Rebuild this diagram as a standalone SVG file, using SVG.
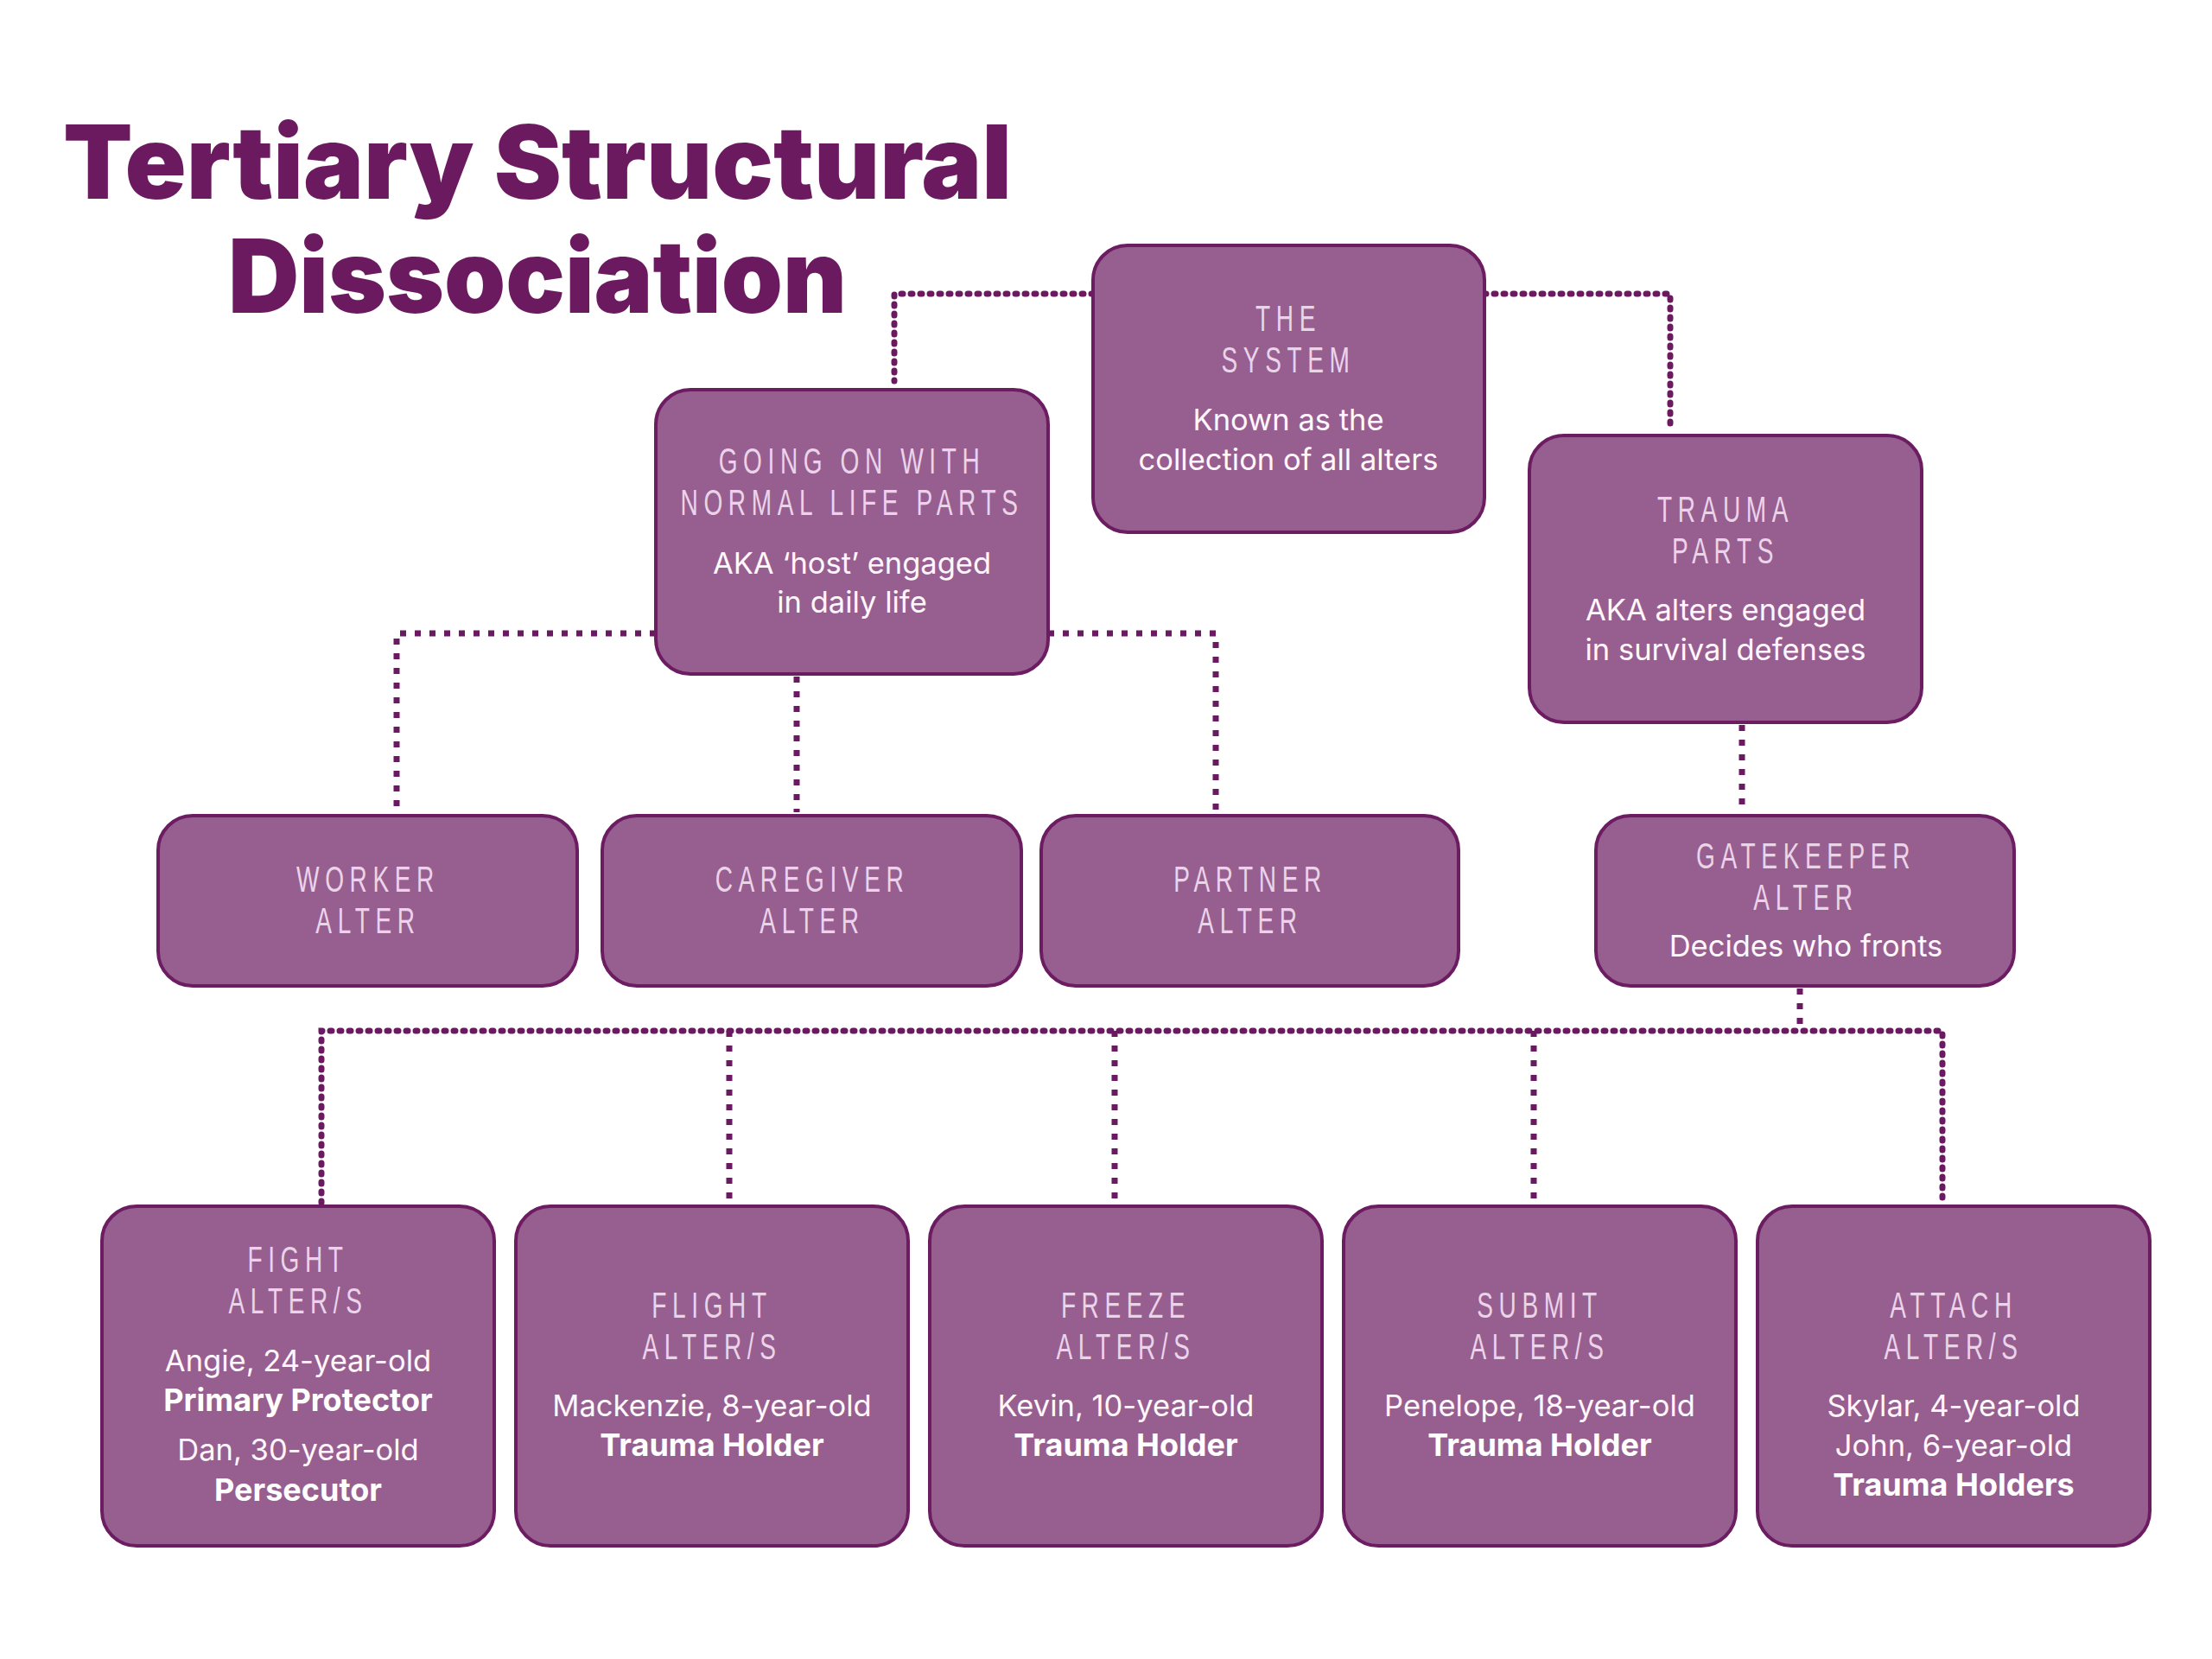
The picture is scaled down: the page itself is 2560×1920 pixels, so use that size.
<svg xmlns="http://www.w3.org/2000/svg" width="2560" height="1920" viewBox="0 0 2560 1920">
<style>
.title{font-family:Inter,"Open Sans","Liberation Sans",sans-serif;font-weight:900;font-size:118px;fill:#6B1A5F;text-anchor:middle}
.box{fill:#975F8F;stroke:#6C1D62;stroke-width:4}
.h{font-family:"Liberation Sans",Arial,sans-serif;font-weight:400;font-size:42.5px;letter-spacing:10px;fill:#EBD3EA;text-anchor:middle}
.b{font-family:Inter,"Open Sans","Liberation Sans",sans-serif;font-weight:400;font-size:34.5px;fill:#FFF7FD;text-anchor:middle}
.bb{font-family:Inter,"Open Sans","Liberation Sans",sans-serif;font-weight:700;font-size:36px;fill:#FFFFFF;text-anchor:middle}
.ca{fill:none;stroke:#6B1A61;stroke-width:7;stroke-linecap:round;stroke-dasharray:2 9}
.cs{fill:none;stroke:#6B1A61;stroke-width:7;stroke-dasharray:7 10}
</style>
<rect width="2560" height="1920" fill="#FFFFFF"/>
<g id="title">
<text class="title" x="622" y="230" textLength="1098" lengthAdjust="spacingAndGlyphs">Tertiary Structural</text>
<text class="title" x="622" y="362" textLength="716" lengthAdjust="spacingAndGlyphs">Dissociation</text>
</g>
<g id="connectors">
<path class="ca" d="M1265 340 H1035 V441"/>
<path class="ca" d="M1718 340 H1933 V496"/>
<path class="cs" d="M759 733 H459 V937"/>
<path class="cs" d="M922 783 V940"/>
<path class="cs" d="M1213 733 H1407 V940"/>
<path class="cs" d="M2016 839 V940"/>
<path class="cs" d="M2083 1144 V1193"/>
<path class="ca" d="M372 1392 V1193 H2248 V1392"/>
<path class="cs" d="M844 1193 V1396"/>
<path class="cs" d="M1290 1193 V1396"/>
<path class="cs" d="M1775 1193 V1396"/>
</g>
<g id="the-system">
<rect class="box" x="1265" y="284" width="453" height="332" rx="40"/>
<text class="h" transform="translate(1491 383) scale(0.66 1)"><tspan x="0" y="0">THE</tspan><tspan x="0" y="48">SYSTEM</tspan></text>
<text class="b" x="1491" y="498">Known as the</text>
<text class="b" x="1491" y="544">collection of all alters</text>
</g>
<g id="going-on">
<rect class="box" x="759" y="451" width="454" height="329" rx="40"/>
<text class="h" transform="translate(986 548) scale(0.66 1)"><tspan x="0" y="0">GOING ON WITH</tspan><tspan x="0" y="48">NORMAL LIFE PARTS</tspan></text>
<text class="b" x="986" y="664">AKA ‘host’ engaged</text>
<text class="b" x="986" y="709">in daily life</text>
</g>
<g id="trauma-parts">
<rect class="box" x="1770" y="504" width="454" height="332" rx="40"/>
<text class="h" transform="translate(1997 604) scale(0.66 1)"><tspan x="0" y="0">TRAUMA</tspan><tspan x="0" y="48">PARTS</tspan></text>
<text class="b" x="1997" y="718">AKA alters engaged</text>
<text class="b" x="1997" y="764">in survival defenses</text>
</g>
<g id="worker">
<rect class="box" x="183" y="944" width="485" height="197" rx="40"/>
<text class="h" transform="translate(426 1032) scale(0.66 1)"><tspan x="0" y="0">WORKER</tspan><tspan x="0" y="48">ALTER</tspan></text>
</g>
<g id="caregiver">
<rect class="box" x="697" y="944" width="485" height="197" rx="40"/>
<text class="h" transform="translate(940 1032) scale(0.66 1)"><tspan x="0" y="0">CAREGIVER</tspan><tspan x="0" y="48">ALTER</tspan></text>
</g>
<g id="partner">
<rect class="box" x="1205" y="944" width="483" height="197" rx="40"/>
<text class="h" transform="translate(1447 1032) scale(0.66 1)"><tspan x="0" y="0">PARTNER</tspan><tspan x="0" y="48">ALTER</tspan></text>
</g>
<g id="gatekeeper">
<rect class="box" x="1847" y="944" width="484" height="197" rx="40"/>
<text class="h" transform="translate(2090 1005) scale(0.66 1)"><tspan x="0" y="0">GATEKEEPER</tspan><tspan x="0" y="48">ALTER</tspan></text>
<text class="b" x="2090" y="1107">Decides who fronts</text>
</g>
<g id="fight">
<rect class="box" x="118" y="1396" width="454" height="393" rx="40"/>
<text class="h" transform="translate(345 1472) scale(0.66 1)"><tspan x="0" y="0">FIGHT</tspan><tspan x="0" y="48">ALTER/S</tspan></text>
<text class="b" x="345" y="1587">Angie, 24-year-old</text>
<text class="bb" x="345" y="1633">Primary Protector</text>
<text class="b" x="345" y="1690">Dan, 30-year-old</text>
<text class="bb" x="345" y="1737">Persecutor</text>
</g>
<g id="flight">
<rect class="box" x="597" y="1396" width="454" height="393" rx="40"/>
<text class="h" transform="translate(824 1525) scale(0.66 1)"><tspan x="0" y="0">FLIGHT</tspan><tspan x="0" y="48">ALTER/S</tspan></text>
<text class="b" x="824" y="1639">Mackenzie, 8-year-old</text>
<text class="bb" x="824" y="1685">Trauma Holder</text>
</g>
<g id="freeze">
<rect class="box" x="1076" y="1396" width="454" height="393" rx="40"/>
<text class="h" transform="translate(1303 1525) scale(0.66 1)"><tspan x="0" y="0">FREEZE</tspan><tspan x="0" y="48">ALTER/S</tspan></text>
<text class="b" x="1303" y="1639">Kevin, 10-year-old</text>
<text class="bb" x="1303" y="1685">Trauma Holder</text>
</g>
<g id="submit">
<rect class="box" x="1555" y="1396" width="454" height="393" rx="40"/>
<text class="h" transform="translate(1782 1525) scale(0.66 1)"><tspan x="0" y="0">SUBMIT</tspan><tspan x="0" y="48">ALTER/S</tspan></text>
<text class="b" x="1782" y="1639">Penelope, 18-year-old</text>
<text class="bb" x="1782" y="1685">Trauma Holder</text>
</g>
<g id="attach">
<rect class="box" x="2034" y="1396" width="454" height="393" rx="40"/>
<text class="h" transform="translate(2261 1525) scale(0.66 1)"><tspan x="0" y="0">ATTACH</tspan><tspan x="0" y="48">ALTER/S</tspan></text>
<text class="b" x="2261" y="1639">Skylar, 4-year-old</text>
<text class="b" x="2261" y="1685">John, 6-year-old</text>
<text class="bb" x="2261" y="1731">Trauma Holders</text>
</g>
</svg>
